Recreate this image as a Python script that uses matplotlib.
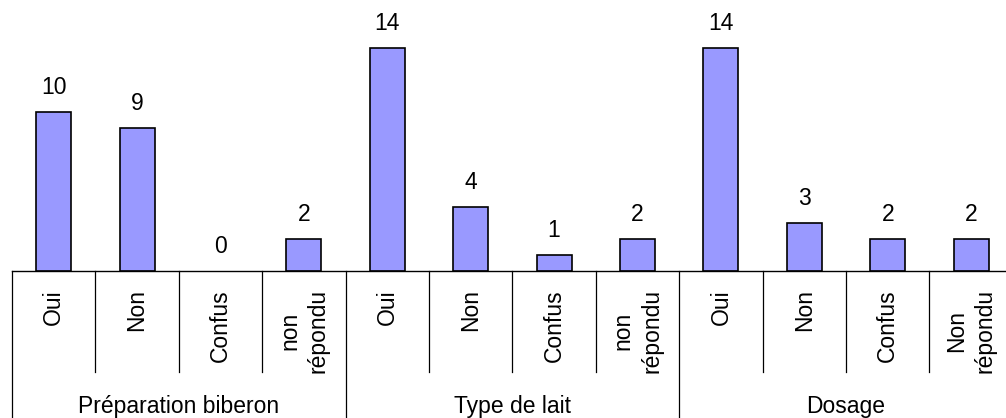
import matplotlib
matplotlib.use("Agg")
import matplotlib.pyplot as plt
import matplotlib.transforms as mtransforms

plt.rcParams['font.family'] = ['Liberation Sans', 'DejaVu Sans']

groups = ["Préparation biberon", "Type de lait", "Dosage"]
categories = ["Oui", "Non", "Confus", "non\nrépondu",
              "Oui", "Non", "Confus", "non\nrépondu",
              "Oui", "Non", "Confus", "Non\nrépondu"]
values = [10, 9, 0, 2, 14, 4, 1, 2, 14, 3, 2, 2]
group_size = 4

W, H, DPI = 1006, 418, 100
fig = plt.figure(figsize=(W / DPI, H / DPI), dpi=DPI)

left_px, base_px, cat_w = 12, 271, 83.4
n = len(categories)
ax = fig.add_axes([left_px / W, (H - base_px) / H, n * cat_w / W, base_px / H])
ax.set_xlim(-0.5, n - 0.5)
ax.set_ylim(0, base_px / 15.9)

x = list(range(n))
edges = ["black" if v > 0 else "none" for v in values]
ax.bar(x, values, width=0.42, color="#9999FF", edgecolor=edges, linewidth=1.2, zorder=3)

FS = 16.5
for xi, v in zip(x, values):
    ax.annotate(str(v), (xi, v), xytext=(0, 13), textcoords="offset pixels",
                ha="center", va="bottom", fontsize=FS)

for s in ["top", "right", "left"]:
    ax.spines[s].set_visible(False)
ax.spines["bottom"].set_linewidth(1.0)
ax.spines["bottom"].set_zorder(4)
ax.set_xticks([])
ax.set_yticks([])

trans = mtransforms.blended_transform_factory(ax.transData, fig.dpi_scale_trans)
def yp(y):
    return (H - y) / DPI

# separators
for i in range(n + 1):
    xs = i - 0.5
    if i % group_size == 0:
        y_end = H + 2
    else:
        y_end = 372
    ax.plot([xs, xs], [yp(base_px), yp(y_end)], color="black", lw=0.9,
            transform=trans, clip_on=False)

# category labels
for xi, c in zip(x, categories):
    ax.text(xi, yp(289), c, rotation=90, ha="center", va="top",
            multialignment="center", linespacing=1.3, fontsize=FS,
            transform=trans)

# group labels
for gi, g in enumerate(groups):
    cx = gi * group_size + (group_size - 1) / 2
    ax.text(cx, yp(413), g, ha="center", va="baseline", fontsize=FS,
            transform=trans)

fig.savefig("out.png", dpi=DPI)
